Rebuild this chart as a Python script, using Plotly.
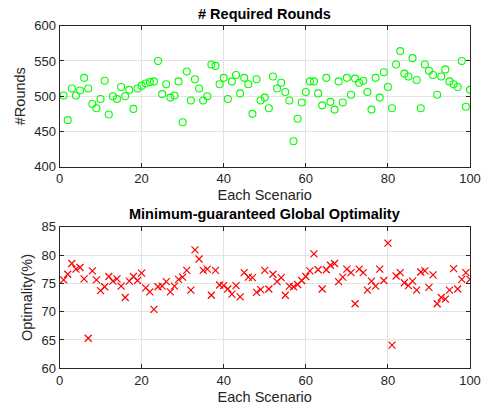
import plotly.graph_objects as go

scenarios = list(range(1, 101))

rounds = [501, 466, 511, 501, 508, 526, 511, 489, 483, 496,
          522, 474, 500, 496, 513, 500, 509, 482, 511, 515,
          518, 520, 521, 550, 503, 517, 498, 501, 521, 463,
          535, 494, 524, 511, 494, 500, 545, 543, 517, 526,
          496, 521, 530, 504, 526, 517, 475, 524, 494, 498,
          483, 528, 511, 519, 506, 494, 436, 468, 491, 506,
          521, 521, 504, 487, 526, 492, 481, 521, 491, 526,
          502, 525, 519, 522, 506, 481, 526, 498, 534, 513,
          483, 545, 564, 532, 528, 554, 523, 483, 545, 536,
          530, 502, 528, 538, 521, 517, 513, 550, 485, 509]

optimality = [75.6, 76.6, 78.5, 77.5, 77.8, 75.8, 65.3, 77.2, 75.6, 73.7,
              74.4, 76.2, 75.4, 75.8, 74.5, 72.5, 75.4, 76.2, 75.5, 76.8,
              74.2, 73.5, 70.4, 74.4, 74.5, 75.3, 73.5, 74.5, 75.7, 76.1,
              77.3, 73.8, 80.9, 79.3, 77.3, 77.5, 72.9, 77.3, 74.7, 74.6,
              74.0, 73.1, 74.6, 72.6, 76.9, 76.1, 76.0, 73.4, 73.9, 77.3,
              74.0, 76.6, 75.3, 76.0, 72.9, 74.5, 74.4, 74.8, 75.5, 76.2,
              77.2, 80.2, 77.4, 74.0, 77.4, 78.2, 78.5, 75.3, 76.1, 77.5,
              76.9, 71.4, 77.5, 76.9, 73.8, 75.4, 74.5, 77.5, 75.5, 82.1,
              64.1, 76.3, 76.9, 75.1, 74.6, 75.4, 73.8, 77.0, 77.2, 74.3,
              76.5, 71.4, 72.5, 72.2, 73.8, 77.6, 74.0, 75.7, 76.9, 75.7]

x_ticks = [0, 20, 40, 60, 80, 100]
rounds_ticks = [400, 450, 500, 550, 600]
opt_ticks = [60, 65, 70, 75, 80, 85]

W, H = 487, 407
FONT = "Liberation Sans"
AX = "#262626"

def px_x(p):
    return p / W

def px_y(p):
    return 1 - p / H

fig = go.Figure()
fig.add_trace(go.Scatter(x=scenarios, y=rounds, mode="markers",
                         marker=dict(symbol="circle-open", size=7, color="#00ff00",
                                     line=dict(width=1.1, color="#00ff00")),
                         xaxis="x", yaxis="y", showlegend=False))
fig.add_trace(go.Scatter(x=scenarios, y=optimality, mode="markers",
                         marker=dict(symbol="x-thin-open", size=7, color="#ff0000",
                                     line=dict(width=1.2, color="#ff0000")),
                         xaxis="x2", yaxis="y2", showlegend=False))

common = dict(showline=True, linecolor=AX, linewidth=1, mirror="ticks",
              ticks="inside", ticklen=4, tickcolor=AX, tickwidth=1,
              showgrid=True, gridcolor="#e3e3e3", gridwidth=1, zeroline=False,
              automargin=False,
              tickfont=dict(family=FONT, size=13, color=AX))

xdom = [px_x(59.5), px_x(470)]
fig.update_layout(
    width=W, height=H, margin=dict(l=0, r=0, t=0, b=0),
    paper_bgcolor="white", plot_bgcolor="white",
    font=dict(family=FONT, color=AX),
    xaxis=dict(domain=xdom, range=[0, 100], tickvals=x_ticks, anchor="y",
               title=dict(text="Each Scenario", font=dict(size=14.5, family=FONT, color=AX), standoff=4),
               **common),
    yaxis=dict(domain=[px_y(166.7), px_y(25.7)], range=[400, 600], tickvals=rounds_ticks, anchor="x",
               title=dict(text="#Rounds", font=dict(size=14.5, family=FONT, color=AX), standoff=5),
               **common),
    xaxis2=dict(domain=xdom, range=[0, 100], tickvals=x_ticks, anchor="y2",
                title=dict(text="Each Scenario", font=dict(size=14.5, family=FONT, color=AX), standoff=4),
                **common),
    yaxis2=dict(domain=[px_y(368.3), px_y(226.7)], range=[60, 85], tickvals=opt_ticks, anchor="x2",
                title=dict(text="Optimality(%)", font=dict(size=14.5, family=FONT, color=AX), standoff=5),
                **common),
    annotations=[
        dict(text="<b># Required Rounds</b>", x=(xdom[0] + xdom[1]) / 2, y=px_y(13.5),
             xref="paper", yref="paper", xanchor="center", yanchor="middle", showarrow=False,
             font=dict(family=FONT, size=14.5, color="black")),
        dict(text="<b>Minimum-guaranteed Global Optimality</b>", x=(xdom[0] + xdom[1]) / 2, y=px_y(214),
             xref="paper", yref="paper", xanchor="center", yanchor="middle", showarrow=False,
             font=dict(family=FONT, size=14.5, color="black")),
    ],
)

fig.write_html("out.html")
